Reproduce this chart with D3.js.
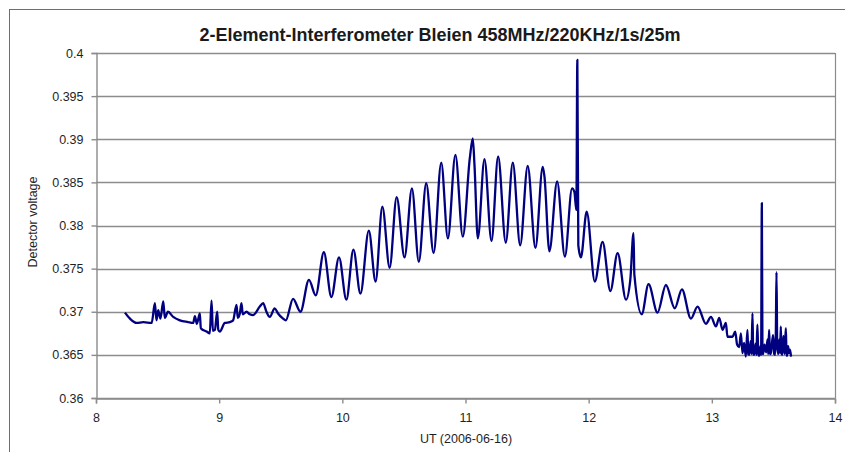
<!DOCTYPE html>
<html>
<head>
<meta charset="utf-8">
<script src="https://cdn.jsdelivr.net/npm/d3@7"></script>
<style>
  html, body { margin: 0; padding: 0; background: #fff; }
  svg { display: block; font-family: "Liberation Sans", Arial, sans-serif; }
</style>
</head>
<body>
<svg id="chart" width="845" height="452"></svg>
<script>
// ---- data ----
const titleText = "2-Element-Interferometer Bleien 458MHz/220KHz/1s/25m";
const xTitle = "UT (2006-06-16)";
const yTitle = "Detector voltage";
const xTicks = [8, 9, 10, 11, 12, 13, 14];
const yTicks = [0.36, 0.365, 0.37, 0.375, 0.38, 0.385, 0.39, 0.395, 0.4];
const yTickLabels = ["0.36", "0.365", "0.37", "0.375", "0.38", "0.385", "0.39", "0.395", "0.4"];

const times = [
  8.235, 8.276, 8.330, 8.384, 8.452, 8.478, 8.491, 8.505, 8.523, 8.546,
  8.559, 8.584, 8.627, 8.681, 8.748, 8.789, 8.803, 8.819, 8.843, 8.851,
  8.898, 8.924, 8.938, 8.949, 8.965, 8.984, 8.993, 9.005, 9.046, 9.087,
  9.113, 9.141, 9.151, 9.168, 9.181, 9.192, 9.222, 9.249, 9.275, 9.330,
  9.357, 9.384, 9.411, 9.451, 9.478, 9.519, 9.541,
  9.600, 9.660, 9.729, 9.784, 9.850, 9.911, 9.973, 10.033, 10.090, 10.147,
  10.215, 10.270, 10.325, 10.384, 10.441, 10.505, 10.565, 10.621, 10.681, 10.741,
  10.803, 10.857, 10.918, 10.978, 11.035, 11.059, 11.073, 11.100, 11.154, 11.211,
  11.265, 11.327, 11.384, 11.444, 11.505, 11.568, 11.627, 11.641, 11.681, 11.744,
  11.807, 11.865, 11.884, 11.900, 11.908, 11.916, 11.937, 11.984, 12.050, 12.113,
  12.176, 12.235, 12.303, 12.338, 12.364, 12.371, 12.431, 12.486, 12.559, 12.627,
  12.699, 12.757, 12.830, 12.884, 12.952, 12.993, 13.033, 13.060, 13.087, 13.114,
  13.127, 13.168, 13.190, 13.205, 13.222, 13.236, 13.249, 13.262, 13.276, 13.289,
  13.296, 13.303, 13.315, 13.322, 13.330, 13.336, 13.343, 13.355, 13.362, 13.370,
  13.377, 13.384, 13.394, 13.400, 13.406, 13.411, 13.416, 13.428, 13.441, 13.452,
  13.458, 13.465, 13.472, 13.479, 13.490, 13.498, 13.506, 13.514, 13.520, 13.525,
  13.531, 13.539, 13.548, 13.554, 13.560, 13.566, 13.571, 13.582, 13.590, 13.601,
  13.606, 13.611, 13.619, 13.627, 13.635, 13.643
];
const volts = [
  0.3699, 0.3692, 0.3687, 0.3688, 0.3687, 0.3710, 0.3690, 0.3702, 0.3692, 0.3712,
  0.3693, 0.3700, 0.3694, 0.3690, 0.3688, 0.3687, 0.3695, 0.3686, 0.3698, 0.3681,
  0.3677, 0.3675, 0.3713, 0.3678, 0.3679, 0.3700, 0.3679, 0.3677, 0.3687, 0.3688,
  0.3690, 0.3708, 0.3693, 0.3698, 0.3710, 0.3697, 0.3700, 0.3697, 0.3696, 0.3706,
  0.3710, 0.3700, 0.3694, 0.3704, 0.3698, 0.3692, 0.3690,
  0.3715, 0.3700, 0.3737, 0.3719, 0.3769, 0.3717, 0.3763, 0.3714, 0.3772, 0.3721,
  0.3794, 0.3735, 0.3822, 0.3751, 0.3833, 0.3763, 0.3843, 0.3758, 0.3849, 0.3768,
  0.3873, 0.3785, 0.3882, 0.3787, 0.3878, 0.3901, 0.3870, 0.3785, 0.3877, 0.3782,
  0.3880, 0.3780, 0.3873, 0.3777, 0.3869, 0.3774, 0.3868, 0.3857, 0.3770, 0.3851,
  0.3764, 0.3843, 0.3839, 0.3818, 0.3992, 0.3777, 0.3763, 0.3816, 0.3735, 0.3781,
  0.3724, 0.3768, 0.3714, 0.3737, 0.3791, 0.3743, 0.3697, 0.3732, 0.3699, 0.3731,
  0.3704, 0.3726, 0.3692, 0.3706, 0.3686, 0.3694, 0.3683, 0.3693, 0.3679, 0.3687,
  0.3671, 0.3671, 0.3677, 0.3662, 0.3659, 0.3675, 0.3652, 0.3664, 0.3648, 0.3679,
  0.3651, 0.3650, 0.3666, 0.3651, 0.3698, 0.3652, 0.3650, 0.3663, 0.3650, 0.3685,
  0.3651, 0.3649, 0.3660, 0.3650, 0.3826, 0.3652, 0.3651, 0.3662, 0.3653, 0.3668,
  0.3651, 0.3679, 0.3652, 0.3651, 0.3666, 0.3673, 0.3651, 0.3650, 0.3680, 0.3746,
  0.3660, 0.3651, 0.3668, 0.3652, 0.3683, 0.3652, 0.3650, 0.3672, 0.3651, 0.3681,
  0.3652, 0.3649, 0.3660, 0.3652, 0.3656, 0.3648
];

// ---- layout ----
const svg = d3.select("#chart");
const plotL = 96, plotR = 835, plotT = 53, plotB = 398;
const x = d3.scaleLinear().domain([8, 14]).range([plotL, plotR]);
const y = d3.scaleLinear().domain([0.36, 0.4]).range([plotB, plotT]);
const gridColor = "#8c8c8c";
const textColor = "#1f1f1f";

// outer frame (only top & left visible)
svg.append("rect")
  .attr("x", 9.5).attr("y", 9.5)
  .attr("width", 860).attr("height", 470)
  .attr("fill", "#fff").attr("stroke", "#6e6e6e").attr("stroke-width", 1);

// title
svg.append("text")
  .attr("x", 440).attr("y", 41)
  .attr("text-anchor", "middle")
  .attr("font-size", 18).attr("font-weight", "bold")
  .attr("fill", "#1a1a1a")
  .text(titleText);

// gridlines
svg.append("g").selectAll("line").data(yTicks).join("line")
  .attr("x1", plotL).attr("x2", plotR)
  .attr("y1", d => Math.round(y(d)) + 0.5).attr("y2", d => Math.round(y(d)) + 0.5)
  .attr("stroke", gridColor).attr("stroke-width", 1.4);

// plot area right border
svg.append("line")
  .attr("x1", plotR + 0.5).attr("x2", plotR + 0.5)
  .attr("y1", plotT).attr("y2", plotB)
  .attr("stroke", gridColor).attr("stroke-width", 1.2);

// y axis
const yAxis = d3.axisLeft(y).tickValues(yTicks)
  .tickFormat((d, i) => yTickLabels[i]).tickSize(5).tickPadding(8);
const gy = svg.append("g").attr("transform", `translate(${plotL + 0.5},0)`).call(yAxis);
gy.select(".domain").attr("stroke", gridColor).attr("stroke-width", 1.4);
gy.selectAll(".tick line").attr("stroke", gridColor).attr("stroke-width", 1.4);
gy.selectAll(".tick text").attr("fill", textColor).attr("font-size", 12.5)
  .attr("font-family", "Liberation Sans, Arial, sans-serif");

// x axis
const xAxis = d3.axisBottom(x).tickValues(xTicks).tickFormat(d3.format("d"))
  .tickSize(5).tickPadding(10);
const gx = svg.append("g").attr("transform", `translate(0,${plotB + 0.5})`).call(xAxis);
gx.select(".domain").attr("stroke", gridColor).attr("stroke-width", 1.4);
gx.selectAll(".tick line").attr("stroke", gridColor).attr("stroke-width", 1.4);
gx.selectAll(".tick text").attr("fill", textColor).attr("font-size", 12.5)
  .attr("font-family", "Liberation Sans, Arial, sans-serif");

// axis titles
svg.append("text")
  .attr("x", 466).attr("y", 443)
  .attr("text-anchor", "middle").attr("font-size", 12.5).attr("fill", textColor)
  .text(xTitle);
svg.append("text")
  .attr("transform", "translate(37,222) rotate(-90)")
  .attr("text-anchor", "middle").attr("font-size", 12.5).attr("fill", textColor)
  .text(yTitle);

// data line
const pts = times.map((t, i) => [t, volts[i]]);
svg.append("path")
  .datum(pts)
  .attr("fill", "none")
  .attr("stroke", "#000080")
  .attr("stroke-width", 2.3)
  .attr("stroke-linejoin", "round")
  .attr("d", d3.line().curve(d3.curveMonotoneX).x(d => x(d[0])).y(d => y(d[1])));
</script>
</body>
</html>
